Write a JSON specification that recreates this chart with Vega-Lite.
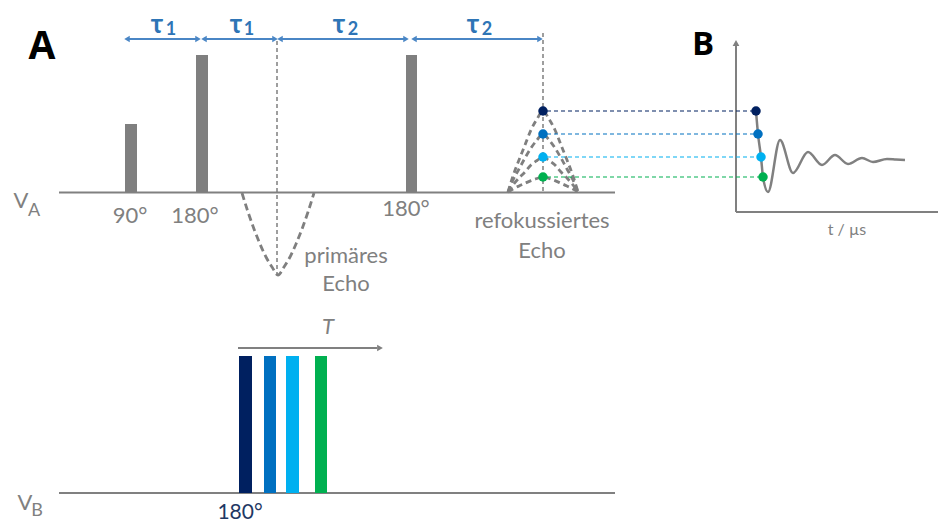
{
  "$schema": "https://vega.github.io/schema/vega-lite/v6.json",
  "width": 938,
  "height": 525,
  "autosize": "none",
  "padding": 0,
  "background": "white",
  "config": {"view": {"stroke": null}, "font": "Lato"},
  "encoding": {
    "x": {"field": "x", "type": "quantitative", "scale": {"domain": [0, 938], "nice": false, "zero": false}, "axis": null},
    "y": {"field": "y", "type": "quantitative", "scale": {"domain": [0, 525], "nice": false, "zero": false, "reverse": true}, "axis": null}
  },
  "layer": [
    {
      "data": {"values": [
        {"name": "V_A", "x": 59, "x2": 615, "y": 192.5, "y2": 192.5},
        {"name": "V_B", "x": 59, "x2": 615, "y": 493, "y2": 493},
        {"name": "B x-axis", "x": 736, "x2": 938, "y": 212, "y2": 212},
        {"name": "B y-axis", "x": 736, "x2": 736, "y": 46, "y2": 212},
        {"name": "T arrow", "x": 238, "x2": 377, "y": 348, "y2": 348}
      ]},
      "mark": {"type": "rule", "color": "#808080", "strokeWidth": 2},
      "encoding": {"x2": {"field": "x2"}, "y2": {"field": "y2"}}
    },
    {
      "data": {"values": [
        {"name": "B y-axis head", "x": 736, "y": 43, "dir": "up"},
        {"name": "T arrow head", "x": 380, "y": 348, "dir": "right"}
      ]},
      "mark": {"type": "point", "filled": true, "color": "#808080", "opacity": 1, "size": 45},
      "encoding": {"shape": {"field": "dir", "type": "nominal", "scale": {"domain": ["up", "right", "left"], "range": ["triangle-up", "triangle-right", "triangle-left"]}, "legend": null}}
    },
    {
      "data": {"values": [
        {"pulse": "90°", "x": 125, "x2": 137, "y": 124, "y2": 192},
        {"pulse": "180° a", "x": 196, "x2": 208, "y": 55, "y2": 192},
        {"pulse": "180° b", "x": 406, "x2": 417, "y": 55, "y2": 192}
      ]},
      "mark": {"type": "rect", "color": "#7f7f7f"},
      "encoding": {"x2": {"field": "x2"}, "y2": {"field": "y2"}}
    },
    {
      "data": {"values": [
        {"delay": "T1", "x": 239, "x2": 252, "y": 356, "y2": 493},
        {"delay": "T2", "x": 264, "x2": 276, "y": 356, "y2": 493},
        {"delay": "T3", "x": 286, "x2": 299, "y": 356, "y2": 493},
        {"delay": "T4", "x": 315, "x2": 327, "y": 356, "y2": 493}
      ]},
      "mark": {"type": "rect"},
      "encoding": {
        "x2": {"field": "x2"}, "y2": {"field": "y2"},
        "color": {"field": "delay", "type": "nominal", "scale": {"domain": ["T1", "T2", "T3", "T4"], "range": ["#002060", "#0070c0", "#00b0f0", "#00b050"]}, "legend": null}
      }
    },
    {
      "data": {"values": [
        {"x": 277, "y": 41, "y2": 274},
        {"x": 543, "y": 33, "y2": 192}
      ]},
      "mark": {"type": "rule", "color": "#7f7f7f", "strokeWidth": 1.5, "strokeDash": [4, 3]},
      "encoding": {"y2": {"field": "y2"}}
    },
    {
      "data": {"values": [
        {"x": 242, "y": 193}, {"x": 248, "y": 212}, {"x": 254, "y": 229}, {"x": 260, "y": 244},
        {"x": 266, "y": 257}, {"x": 272, "y": 267}, {"x": 278, "y": 275}, {"x": 284, "y": 267},
        {"x": 290, "y": 257}, {"x": 296, "y": 244}, {"x": 302, "y": 229}, {"x": 308, "y": 212}, {"x": 314, "y": 193}
      ]},
      "mark": {"type": "line", "color": "#7f7f7f", "strokeWidth": 2.8, "strokeDash": [7, 4], "interpolate": "monotone"},
      "encoding": {}
    },
    {
      "data": {"values": [
        {"delay": "T1", "x": 508, "y": 192}, {"delay": "T1", "x": 513, "y": 176}, {"delay": "T1", "x": 519, "y": 160}, {"delay": "T1", "x": 525, "y": 145}, {"delay": "T1", "x": 531, "y": 130}, {"delay": "T1", "x": 537, "y": 119}, {"delay": "T1", "x": 543, "y": 111}, {"delay": "T1", "x": 549, "y": 119}, {"delay": "T1", "x": 555, "y": 130}, {"delay": "T1", "x": 561, "y": 145}, {"delay": "T1", "x": 567, "y": 160}, {"delay": "T1", "x": 573, "y": 176}, {"delay": "T1", "x": 578, "y": 192},
        {"delay": "T2", "x": 508, "y": 192}, {"delay": "T2", "x": 513, "y": 180}, {"delay": "T2", "x": 519, "y": 169}, {"delay": "T2", "x": 525, "y": 158}, {"delay": "T2", "x": 531, "y": 148}, {"delay": "T2", "x": 537, "y": 140}, {"delay": "T2", "x": 543, "y": 134}, {"delay": "T2", "x": 549, "y": 140}, {"delay": "T2", "x": 555, "y": 148}, {"delay": "T2", "x": 561, "y": 158}, {"delay": "T2", "x": 567, "y": 169}, {"delay": "T2", "x": 573, "y": 180}, {"delay": "T2", "x": 578, "y": 192},
        {"delay": "T3", "x": 508, "y": 192}, {"delay": "T3", "x": 513, "y": 185}, {"delay": "T3", "x": 519, "y": 178}, {"delay": "T3", "x": 525, "y": 172}, {"delay": "T3", "x": 531, "y": 165}, {"delay": "T3", "x": 537, "y": 160.5}, {"delay": "T3", "x": 543, "y": 157}, {"delay": "T3", "x": 549, "y": 160.5}, {"delay": "T3", "x": 555, "y": 165}, {"delay": "T3", "x": 561, "y": 172}, {"delay": "T3", "x": 567, "y": 178}, {"delay": "T3", "x": 573, "y": 185}, {"delay": "T3", "x": 578, "y": 192},
        {"delay": "T4", "x": 508, "y": 192}, {"delay": "T4", "x": 513, "y": 189}, {"delay": "T4", "x": 519, "y": 186}, {"delay": "T4", "x": 525, "y": 183.3}, {"delay": "T4", "x": 531, "y": 180.6}, {"delay": "T4", "x": 537, "y": 178.5}, {"delay": "T4", "x": 543, "y": 177}, {"delay": "T4", "x": 549, "y": 178.5}, {"delay": "T4", "x": 555, "y": 180.6}, {"delay": "T4", "x": 561, "y": 183.3}, {"delay": "T4", "x": 567, "y": 186}, {"delay": "T4", "x": 573, "y": 189}, {"delay": "T4", "x": 578, "y": 192}
      ]},
      "mark": {"type": "line", "color": "#7f7f7f", "strokeWidth": 2.8, "strokeDash": [6, 4], "interpolate": "monotone"},
      "encoding": {"detail": {"field": "delay", "type": "nominal"}}
    },
    {
      "data": {"values": [
        {"delay": "T1", "x": 547, "x2": 752, "y": 111},
        {"delay": "T2", "x": 547, "x2": 755, "y": 134},
        {"delay": "T3", "x": 547, "x2": 757, "y": 157},
        {"delay": "T4", "x": 547, "x2": 759, "y": 177}
      ]},
      "mark": {"type": "rule", "strokeWidth": 1.2, "strokeDash": [4, 3]},
      "encoding": {"x2": {"field": "x2"}, "color": {"field": "delay", "type": "nominal", "legend": null}}
    },
    {
      "data": {"values": [
        {"x": 756, "y": 111}, {"x": 758, "y": 134}, {"x": 761, "y": 157}, {"x": 763, "y": 177},
        {"x": 768, "y": 192}, {"x": 780, "y": 140}, {"x": 793, "y": 173}, {"x": 808, "y": 152},
        {"x": 822, "y": 165}, {"x": 835, "y": 155}, {"x": 848, "y": 164}, {"x": 862, "y": 158},
        {"x": 873, "y": 162}, {"x": 887, "y": 159}, {"x": 896, "y": 159.5}, {"x": 905, "y": 160}
      ]},
      "mark": {"type": "line", "color": "#808080", "strokeWidth": 2.5, "interpolate": "monotone"},
      "encoding": {}
    },
    {
      "data": {"values": [
        {"delay": "T1", "x": 543, "y": 111}, {"delay": "T2", "x": 543, "y": 134}, {"delay": "T3", "x": 543, "y": 157}, {"delay": "T4", "x": 543, "y": 177},
        {"delay": "T1", "x": 756, "y": 111}, {"delay": "T2", "x": 758, "y": 134}, {"delay": "T3", "x": 761, "y": 157}, {"delay": "T4", "x": 763, "y": 177}
      ]},
      "mark": {"type": "point", "filled": true, "opacity": 1, "size": 90},
      "encoding": {"color": {"field": "delay", "type": "nominal", "legend": null}}
    },
    {
      "data": {"values": [
        {"label": "tau1 a", "x": 128, "x2": 197, "y": 39},
        {"label": "tau1 b", "x": 205, "x2": 274, "y": 39},
        {"label": "tau2 a", "x": 281, "x2": 405, "y": 39},
        {"label": "tau2 b", "x": 415, "x2": 539, "y": 39}
      ]},
      "mark": {"type": "rule", "color": "#4a86c5", "strokeWidth": 2},
      "encoding": {"x2": {"field": "x2"}}
    },
    {
      "data": {"values": [
        {"x": 127, "y": 39, "dir": "left"}, {"x": 198, "y": 39, "dir": "right"},
        {"x": 204, "y": 39, "dir": "left"}, {"x": 275, "y": 39, "dir": "right"},
        {"x": 280, "y": 39, "dir": "left"}, {"x": 406, "y": 39, "dir": "right"},
        {"x": 414, "y": 39, "dir": "left"}, {"x": 540, "y": 39, "dir": "right"}
      ]},
      "mark": {"type": "point", "filled": true, "color": "#4a86c5", "opacity": 1, "size": 40},
      "encoding": {"shape": {"field": "dir", "type": "nominal", "legend": null}}
    },
    {
      "data": {"values": [
        {"text": "A", "x": 42, "y": 47}
      ]},
      "mark": {"type": "text", "fontSize": 39, "fontWeight": "bold", "color": "#000000", "align": "center", "baseline": "middle", "font": "Open Sans"},
      "encoding": {"text": {"field": "text"}}
    },
    {
      "data": {"values": [
        {"text": "B", "x": 703, "y": 45}
      ]},
      "mark": {"type": "text", "fontSize": 33, "fontWeight": "bold", "color": "#000000", "align": "center", "baseline": "middle", "font": "Open Sans"},
      "encoding": {"text": {"field": "text"}}
    },
    {
      "data": {"values": [
        {"text": "τ", "x": 157, "y": 25}, {"text": "τ", "x": 236, "y": 25},
        {"text": "τ", "x": 339, "y": 25}, {"text": "τ", "x": 473, "y": 25}
      ]},
      "mark": {"type": "text", "fontSize": 26, "fontWeight": "bold", "color": "#2e75b6", "align": "center", "baseline": "middle"},
      "encoding": {"text": {"field": "text"}}
    },
    {
      "data": {"values": [
        {"text": "1", "x": 171, "y": 30}, {"text": "1", "x": 249, "y": 30},
        {"text": "2", "x": 353, "y": 30}, {"text": "2", "x": 487, "y": 30}
      ]},
      "mark": {"type": "text", "fontSize": 18, "fontWeight": "bold", "color": "#2e75b6", "align": "center", "baseline": "middle"},
      "encoding": {"text": {"field": "text"}}
    },
    {
      "data": {"values": [
        {"text": "90°", "x": 130, "y": 216},
        {"text": "180°", "x": 195, "y": 216},
        {"text": "180°", "x": 406, "y": 209},
        {"text": "primäres", "x": 346, "y": 256},
        {"text": "Echo", "x": 346, "y": 284},
        {"text": "refokussiertes", "x": 542, "y": 221},
        {"text": "Echo", "x": 542, "y": 251}
      ]},
      "mark": {"type": "text", "fontSize": 22, "color": "#808080", "align": "center", "baseline": "middle"},
      "encoding": {"text": {"field": "text"}}
    },
    {
      "data": {"values": [
        {"text": "V", "x": 21, "y": 201},
        {"text": "V", "x": 25, "y": 503}
      ]},
      "mark": {"type": "text", "fontSize": 22, "color": "#808080", "align": "center", "baseline": "middle"},
      "encoding": {"text": {"field": "text"}}
    },
    {
      "data": {"values": [
        {"text": "A", "x": 34, "y": 211},
        {"text": "B", "x": 37, "y": 511}
      ]},
      "mark": {"type": "text", "fontSize": 18, "color": "#808080", "align": "center", "baseline": "middle"},
      "encoding": {"text": {"field": "text"}}
    },
    {
      "data": {"values": [
        {"text": "t / µs", "x": 847, "y": 230}
      ]},
      "mark": {"type": "text", "fontSize": 16, "color": "#808080", "align": "center", "baseline": "middle"},
      "encoding": {"text": {"field": "text"}}
    },
    {
      "data": {"values": [
        {"text": "T", "x": 328, "y": 327}
      ]},
      "mark": {"type": "text", "fontSize": 22, "fontStyle": "italic", "color": "#808080", "align": "center", "baseline": "middle"},
      "encoding": {"text": {"field": "text"}}
    },
    {
      "data": {"values": [
        {"text": "180°", "x": 240, "y": 513}
      ]},
      "mark": {"type": "text", "fontSize": 21, "color": "#1f3864", "align": "center", "baseline": "middle"},
      "encoding": {"text": {"field": "text"}}
    }
  ]
}
